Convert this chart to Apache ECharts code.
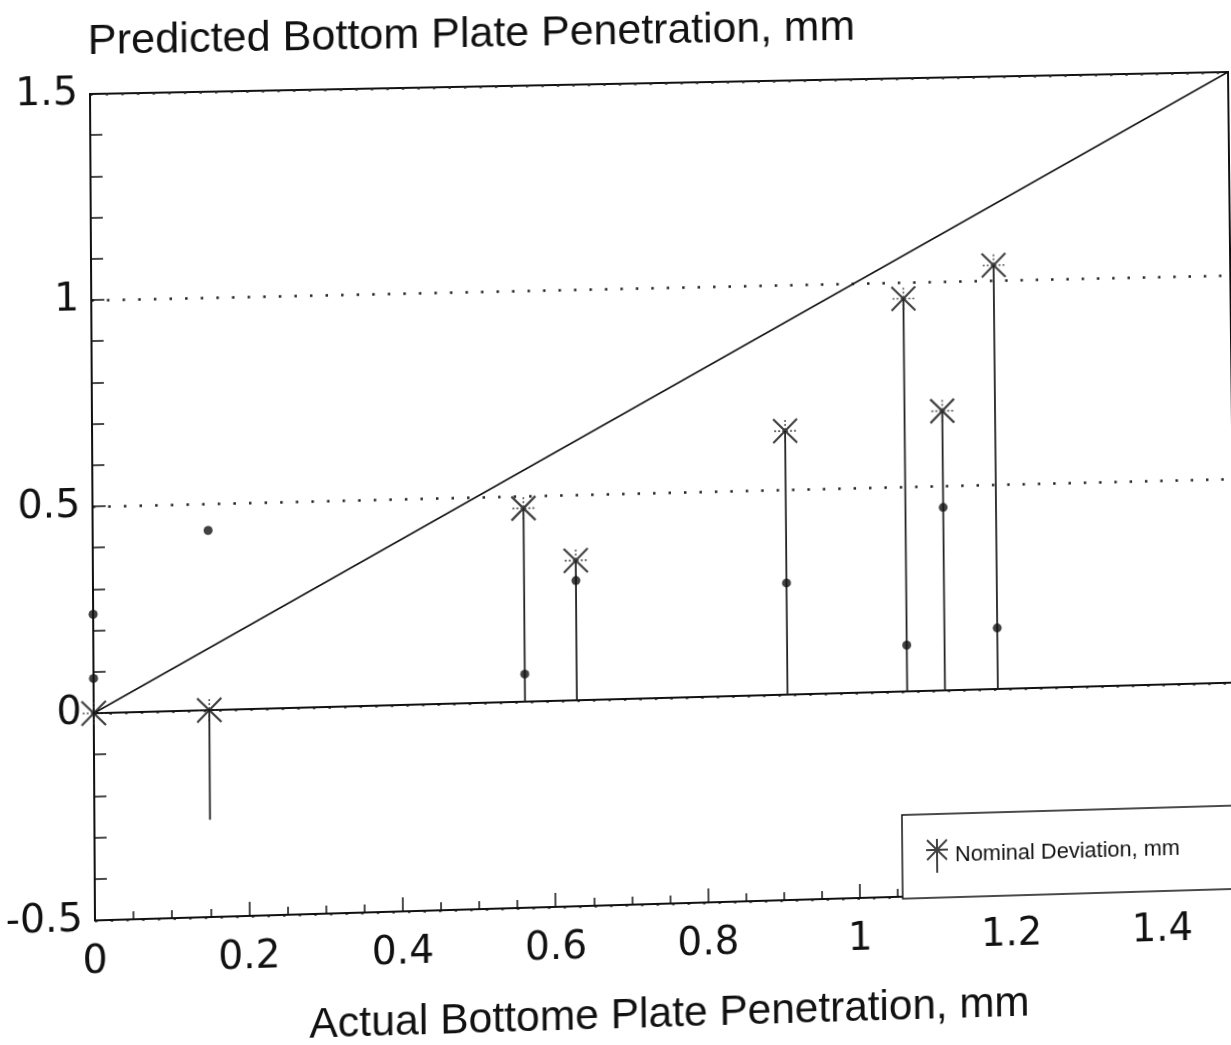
<!DOCTYPE html>
<html>
<head>
<meta charset="utf-8">
<script src="https://cdn.jsdelivr.net/npm/echarts@6/dist/echarts.min.js"></script>
<style>
  html, body { margin: 0; padding: 0; background: #fff; overflow: hidden; width: 1231px; height: 1045px; }
  #chart { position: absolute; left: 0; top: 0; width: 1270px; height: 1070px; transform-origin: 0 0; }
</style>
</head>
<body>
<div id="chart"></div>
<script>
// Actual bottom plate penetration of each test case, mm
const actualPen = [0, 0.15, 0.562, 0.63, 0.907, 1.065, 1.115, 1.185];
// Predicted penetration with nominal deviation (asterisk), mm
const nominalPred = [0, 0, 0.47, 0.34, 0.643, 0.96, 0.683, 1.037];
// Lower end of each prediction range, mm
const rangeLow = [0, -0.265, 0, 0, 0, 0, 0, 0];
// Individual predictions (small dots), mm
const singleX = [0, 0, 0.15, 0.562, 0.63, 0.907, 1.065, 1.115, 1.185];
const singleY = [0.084, 0.239, 0.435, 0.067, 0.291, 0.272, 0.113, 0.447, 0.149];
// Reference lines
const perfectLine = [[0, 0], [1.5, 1.5]];
const zeroLine = [[0, 0], [1.5, 0]];

const FONT = '"Liberation Sans", Arial, Helvetica, sans-serif';
const NUM_FONT = '"DejaVu Sans", "Liberation Sans", sans-serif';
const INK = '#111';

// The plot sheet lies slightly tilted on the page: map four corners of the
// flat layout onto their place on the page with a projective transform.
function projective(src, dst) {
  const A = [], b = [];
  for (let i = 0; i < 4; i++) {
    const [x, y] = src[i], [u, v] = dst[i];
    A.push([x, y, 1, 0, 0, 0, -u * x, -u * y]); b.push(u);
    A.push([0, 0, 0, x, y, 1, -v * x, -v * y]); b.push(v);
  }
  const n = 8;
  for (let c = 0; c < n; c++) {
    let p = c;
    for (let r = c + 1; r < n; r++) if (Math.abs(A[r][c]) > Math.abs(A[p][c])) p = r;
    [A[c], A[p]] = [A[p], A[c]]; [b[c], b[p]] = [b[p], b[c]];
    for (let r = 0; r < n; r++) {
      if (r === c) continue;
      const f = A[r][c] / A[c][c];
      for (let k = c; k < n; k++) A[r][k] -= f * A[c][k];
      b[r] -= f * b[c];
    }
  }
  const h = b.map((v, i) => v / A[i][i]);
  return `matrix3d(${h[0]},${h[3]},0,${h[6]},${h[1]},${h[4]},0,${h[7]},0,0,1,0,${h[2]},${h[5]},0,1)`;
}
const GRID = { left: 93, top: 96, width: 1143, height: 824 };
document.getElementById('chart').style.transform = projective(
  [[93, 96], [1236, 96], [93, 920], [855, 920]],
  [[90, 94], [1228, 72], [95, 920.5], [860, 898]]
);

const chart = echarts.init(document.getElementById('chart'), null, { renderer: 'canvas' });

chart.setOption({
  animation: false,
  backgroundColor: '#fff',
  title: {
    text: 'Predicted Bottom Plate Penetration, mm',
    left: 86, top: 18,
    textStyle: { fontFamily: FONT, fontSize: 43, fontWeight: 'normal', color: INK }
  },
  legend: {
    data: [{ name: 'Nominal Deviation, mm', icon: 'path://M1,1L21,21M21,1L1,21M11,0L11,34M0,11L22,11' }],
    left: 898, top: 838,
    padding: [24, 90, 24, 23],
    itemWidth: 22, itemHeight: 34, itemGap: 6,
    backgroundColor: '#fff',
    borderColor: INK, borderWidth: 1.5,
    itemStyle: { color: 'rgba(0,0,0,0)', borderColor: INK, borderWidth: 2 },
    textStyle: { fontFamily: FONT, fontSize: 22, color: INK, padding: [10, 0, 0, 2] }
  },
  grid: Object.assign({ show: true, borderColor: INK, borderWidth: 2, backgroundColor: 'transparent' }, GRID),
  xAxis: {
    type: 'value', min: 0, max: 1.5, interval: 0.2,
    name: 'Actual Bottome Plate Penetration, mm',
    nameLocation: 'middle', nameGap: 90,
    nameTextStyle: { fontFamily: FONT, fontSize: 42.5, color: INK },
    axisLine: { show: true, onZero: false, lineStyle: { color: INK, width: 2 } },
    axisTick: { show: true, inside: true, length: 14, lineStyle: { color: INK, width: 1.5 } },
    minorTick: { show: true, splitNumber: 4, length: 8, lineStyle: { color: INK, width: 1.5 } },
    axisLabel: { fontFamily: NUM_FONT, fontSize: 39, color: INK, margin: 22, showMaxLabel: false },
    splitLine: { show: false }
  },
  yAxis: {
    type: 'value', min: -0.5, max: 1.5, interval: 0.5,
    axisLine: { show: true, lineStyle: { color: INK, width: 2 } },
    axisTick: { show: true, inside: true, length: 13, lineStyle: { color: INK, width: 1.5 } },
    minorTick: { show: true, splitNumber: 5, length: 12, lineStyle: { color: INK, width: 1.5 } },
    axisLabel: { fontFamily: NUM_FONT, fontSize: 39, color: INK, margin: 12 },
    splitLine: { show: true, lineStyle: { color: '#222', width: 2.5, type: [2.5, 13] } }
  },
  series: [
    {
      type: 'line', data: zeroLine, symbol: 'none', silent: true,
      lineStyle: { color: INK, width: 2 }, z: 3
    },
    {
      type: 'line', data: perfectLine, symbol: 'none', silent: true,
      lineStyle: { color: INK, width: 1.6 }, z: 3
    },
    {
      // vertical range of each prediction
      type: 'custom', silent: true, z: 4,
      data: actualPen.map((x, i) => [x, rangeLow[i], nominalPred[i]]),
      encode: { x: 0, y: [1, 2] },
      renderItem: function (params, api) {
        const a = api.coord([api.value(0), api.value(1)]);
        const b = api.coord([api.value(0), api.value(2)]);
        return {
          type: 'line',
          shape: { x1: a[0], y1: a[1], x2: b[0], y2: b[1] },
          style: { stroke: '#222', lineWidth: 1.8 }
        };
      }
    },
    {
      type: 'scatter', silent: true, z: 5,
      data: singleX.map((x, i) => [x, singleY[i]]),
      symbol: 'circle', symbolSize: 9,
      itemStyle: { color: INK }
    },
    {
      name: 'Nominal Deviation, mm',
      type: 'scatter', z: 6,
      data: actualPen.map((x, i) => [x, nominalPred[i]]),
      symbol: 'path://M0,0L10,10M10,0L0,10', symbolSize: 24,
      itemStyle: { color: 'rgba(0,0,0,0)', borderColor: INK, borderWidth: 2.2 }
    },
    {
      type: 'scatter', silent: true, z: 6,
      data: actualPen.map((x, i) => [x, nominalPred[i]]),
      symbol: 'path://M5,0L5,10M0,5L10,5', symbolSize: 22,
      itemStyle: { color: 'rgba(0,0,0,0)', borderColor: '#333', borderWidth: 1.6, borderType: [2, 2] }
    }
  ]
});
</script>
</body>
</html>
